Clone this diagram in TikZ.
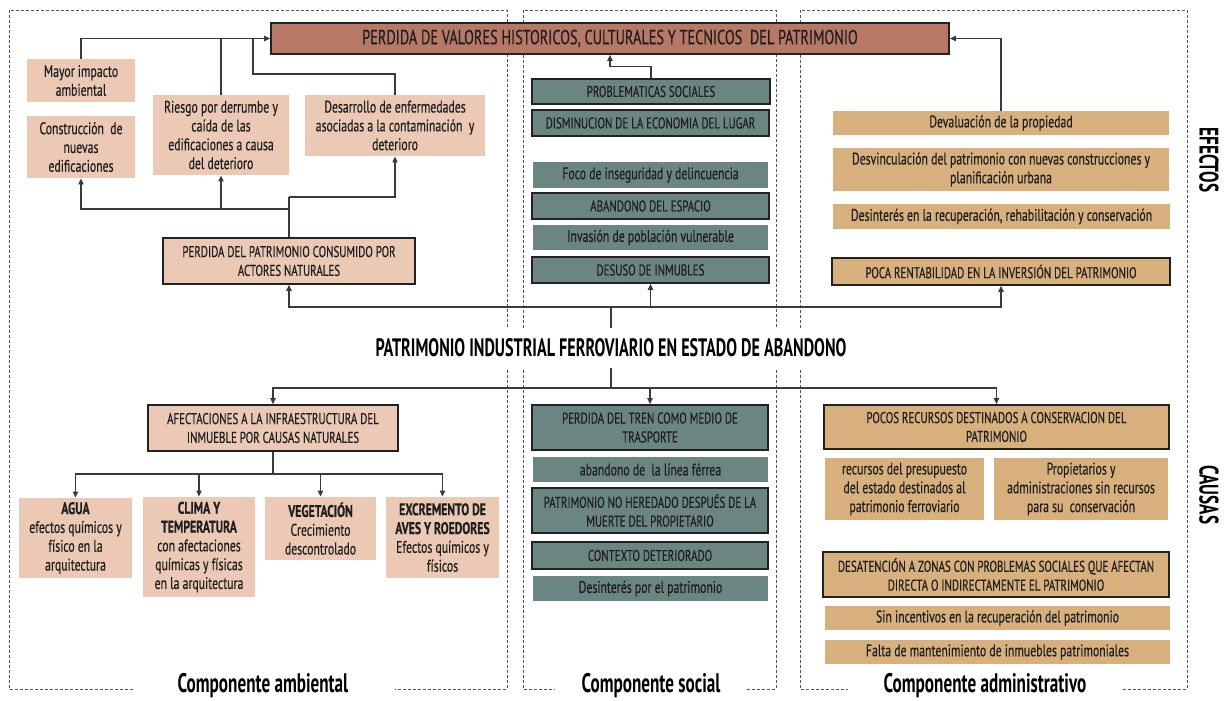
\documentclass[tikz,border=0pt]{standalone}
\usepackage{fontspec}
\setmainfont{PT Sans}[FakeStretch=0.7,FakeBold=0.4]
\newfontfamily\headfont{PT Sans}[FakeStretch=0.64]
\usetikzlibrary{arrows.meta}
\definecolor{titlered}{HTML}{B87866}
\definecolor{pinkc}{HTML}{EBC9B4}
\definecolor{tealc}{HTML}{6B8583}
\definecolor{tanc}{HTML}{D8B07E}
\definecolor{txt}{HTML}{1E1E1E}
\definecolor{bord}{HTML}{222222}
\definecolor{linec}{HTML}{3A3A3A}
\definecolor{framec}{HTML}{555555}
\tikzset{
  rect/.style n args={4}{at={({(#1+#3)/2},{(#2+#4)/2})}, minimum width={(#3-#1)*0.5pt}, minimum height={(#4-#2)*0.5pt}},
  box/.style={inner sep=0pt, align=center, text=txt, font=\fontsize{8.4}{9.4}\selectfont},
  caps/.style={font=\fontsize{7.8}{9.4}\selectfont},
  bdr/.style={draw=bord, line width=0.8pt},
  pinkf/.style={box, fill=pinkc},
  tealf/.style={box, fill=tealc},
  tanf/.style={box, fill=tanc},
  line/.style={draw=linec, line width=0.65pt},
  conn/.style={line, -{Triangle[length=3pt,width=2.6pt]}},
  frame/.style={draw=framec, line width=0.45pt, dash pattern=on 1.6pt off 0.9pt},
  comp/.style={font=\headfont\bfseries\fontsize{13.4}{15}\selectfont, text=black, inner sep=0pt},
  side/.style={font=\headfont\bfseries\fontsize{13.4}{16}\selectfont, text=black, inner sep=0pt, rotate=-90}
}
\begin{document}
\begin{tikzpicture}[x=0.5pt,y=-0.5pt]
\useasboundingbox (0,0) rectangle (1231,701);
% dashed frames
\draw[frame] (133,689) -- (9,689) -- (9,10) -- (507,10) -- (507,328);
\draw[frame] (507,370) -- (507,689) -- (395,689);
\draw[frame] (523,370) -- (523,689) -- (555,689);
\draw[frame] (523,328) -- (523,10) -- (776,10) -- (776,328);
\draw[frame] (776,370) -- (776,689) -- (745,689);
\draw[frame] (800,370) -- (800,689) -- (848,689);
\draw[frame] (800,328) -- (800,10) -- (1187,10) -- (1187,689) -- (1121,689);

% title
\node[box, bdr, fill=titlered, font=\fontsize{10.2}{11}\selectfont, rect={271}{23}{949}{54}] (title) {PERDIDA DE VALORES HISTORICOS, CULTURALES Y TECNICOS\ \ DEL PATRIMONIO};

% left effects
\node[pinkf, rect={27}{59}{135}{102}] (mayor) {Mayor impacto\\ambiental};
\node[pinkf, rect={27}{116}{135}{178}] (constr) {Construcción\ \ de\\nuevas\\edificaciones};
\node[pinkf, rect={153}{95}{289}{175}] (riesgo) {Riesgo por derrumbe y\\caída de las\\edificaciones a causa\\del deterioro};
\node[pinkf, rect={305}{95}{485}{156}] (desarr) {Desarrollo de enfermedades\\asociadas a la contaminación\ \ y\\deterioro};
\node[pinkf, caps, bdr, rect={163}{238}{415}{284}] (pp) {PERDIDA DEL PATRIMONIO CONSUMIDO POR\\ACTORES NATURALES};

% middle effects
\node[tealf, caps, bdr, rect={532}{79}{770}{104}] (prob) {PROBLEMATICAS SOCIALES};
\node[tealf, caps, bdr, rect={532}{110}{769}{136}] (dism) {DISMINUCION DE LA ECONOMIA DEL LUGAR};
\node[tealf, rect={533}{162}{768}{188}] (foco) {Foco de inseguridad y delincuencia};
\node[tealf, caps, bdr, rect={532}{193}{769}{219}] (aband) {ABANDONO DEL ESPACIO};
\node[tealf, rect={533}{225}{768}{250}] (invas) {Invasión de población vulnerable};
\node[tealf, caps, bdr, rect={532}{257}{769}{283}] (desuso) {DESUSO DE INMUBLES};

% right effects
\node[tanf, rect={833}{111}{1169}{135}] (deval) {Devaluación de la propiedad};
\node[tanf, rect={833}{148}{1169}{191}] (desvin) {Desvinculación del patrimonio con nuevas construcciones y\\planificación urbana};
\node[tanf, rect={833}{204}{1170}{229}] (desint) {Desinterés en la recuperación, rehabilitación y conservación};
\node[tanf, caps, bdr, rect={832}{258}{1170}{285}] (poca) {POCA RENTABILIDAD EN LA INVERSIÓN DEL PATRIMONIO};

% main title
\node[font=\headfont\bfseries\fontsize{12.6}{14}\selectfont, text=black, inner xsep=0pt, inner ysep=5pt] (main) at (611,348) {PATRIMONIO INDUSTRIAL FERROVIARIO EN ESTADO DE ABANDONO};

% left causes
\node[pinkf, caps, bdr, rect={148}{405}{398}{451}] (afect) {AFECTACIONES A LA INFRAESTRUCTURA DEL\\INMUEBLE POR CAUSAS NATURALES};
\node[pinkf, rect={19}{498}{132}{578}] (agua) {\textbf{AGUA}\\efectos químicos y\\físico en la\\arquitectura};
\node[pinkf, rect={143}{497}{255}{597}] (clima) {\textbf{CLIMA Y}\\\textbf{TEMPERATURA}\\con afectaciones\\químicas y físicas\\en la arquitectura};
\node[pinkf, rect={265}{497}{376}{560}] (veget) {\textbf{VEGETACIÓN}\\Crecimiento\\descontrolado};
\node[pinkf, rect={386}{497}{499}{578}] (excr) {\textbf{EXCREMENTO DE}\\\textbf{AVES Y ROEDORES}\\Efectos químicos y\\físicos};

% middle causes
\node[tealf, caps, bdr, rect={532}{405}{768}{450}] (tren) {PERDIDA DEL TREN COMO MEDIO DE\\TRASPORTE};
\node[tealf, rect={533}{457}{768}{482}] (linea) {abandono de\ \ la línea férrea};
\node[tealf, caps, bdr, rect={532}{488}{768}{533}] (noher) {PATRIMONIO NO HEREDADO DESPUÉS DE LA\\MUERTE DEL PROPIETARIO};
\node[tealf, caps, bdr, rect={532}{542}{768}{569}] (contx) {CONTEXTO DETERIORADO};
\node[tealf, rect={533}{576}{768}{601}] (desip) {Desinterés por el patrimonio};

% right causes
\node[tanf, caps, bdr, rect={824}{405}{1169}{449}] (pocos) {POCOS RECURSOS DESTINADOS A CONSERVACION DEL\\PATRIMONIO};
\node[tanf, rect={825}{458}{984}{520}] (recpres) {recursos del presupuesto\\del estado destinados al\\patrimonio ferroviario};
\node[tanf, rect={994}{458}{1168}{520}] (propiet) {Propietarios y\\administraciones sin recursos\\para su\ \ conservación};
\node[tanf, caps, bdr, rect={823}{552}{1169}{597}] (desat) {DESATENCIÓN A ZONAS CON PROBLEMAS SOCIALES QUE AFECTAN\\DIRECTA O INDIRECTAMENTE EL PATRIMONIO};
\node[tanf, rect={825}{606}{1170}{630}] (sinince) {Sin incentivos en la recuperación del patrimonio};
\node[tanf, rect={825}{640}{1170}{664}] (falta) {Falta de mantenimiento de inmuebles patrimoniales};

% labels
\node[comp] (lab1) at (263,686) {Componente ambiental};
\node[comp] (lab2) at (651,686) {Componente social};
\node[comp] (lab3) at (985,686) {Componente administrativo};
\node[side] (efectos) at (1209,160) {EFECTOS};
\node[side] (causas) at (1209,495) {CAUSAS};

% connectors: left effects to title
\coordinate (jd) at (253,74);
\draw[conn] (mayor.north) |- (title.west);
\draw[line] (riesgo.north) -- (riesgo.north |- title.west);
\draw[line] (desarr.north) |- (jd) -- (jd |- title.west);
% pp to left effects
\coordinate (ppj) at (289,209);
\coordinate (ppk) at (289,197);
\draw[line] (pp.north) -- (ppk);
\draw[conn] (ppj) -| (constr.south);
\draw[conn] (ppj) -| (riesgo.south);
\draw[conn] (ppk) -| (desarr.south);
% middle & right effects to title
\draw[conn] (prob.north) -- ++(0,-12) -| (title.south);
\draw[conn] (deval.north) |- (title.east);
% main to effects
\coordinate (eh) at (611,307);
\draw[line] (main.north) -- (eh);
\draw[conn] (eh) -| (pp.south);
\draw[conn] (eh) -| (desuso.south);
\draw[conn] (eh) -| (poca.south);
% main to causes
\coordinate (ch) at (611,388);
\draw[line] (main.south) -- (ch);
\draw[conn] (ch) -| (afect.north);
\draw[conn] (ch) -| (tren.north);
\draw[conn] (ch) -| (pocos.north);
% afect to natural causes
\coordinate (ah) at (273,474);
\draw[line] (afect.south) -- (ah);
\draw[conn] (ah) -| (agua.north);
\draw[conn] (ah) -| (clima.north);
\draw[conn] (ah) -| (veget.north);
\draw[conn] (ah) -| (excr.north);
\end{tikzpicture}
\end{document}
